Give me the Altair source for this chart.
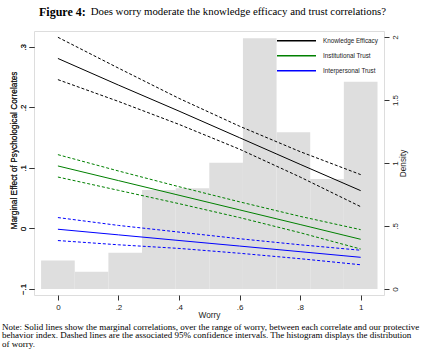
import altair as alt
import pandas as pd

# ---- data ----
worry = [0.0, 0.2, 0.4, 0.6, 0.8, 1.0]

ke_est = [0.281, 0.237, 0.194, 0.150, 0.106, 0.0625]
ke_hi = [0.316, 0.265, 0.215, 0.169, 0.127, 0.089]
ke_lo = [0.246, 0.210, 0.172, 0.131, 0.085, 0.036]

it_est = [0.1033, 0.0791, 0.0549, 0.0307, 0.0065, -0.0179]
it_hi = [0.122, 0.095, 0.069, 0.044, 0.020, -0.002]
it_lo = [0.085, 0.063, 0.041, 0.018, -0.007, -0.034]

ip_est = [-0.0013, -0.0106, -0.0199, -0.0291, -0.0384, -0.0477]
ip_hi = [0.018, 0.005, -0.006, -0.017, -0.027, -0.036]
ip_lo = [-0.020, -0.027, -0.033, -0.041, -0.050, -0.060]

series_names = ["Knowledge Efficacy", "Institutional Trust", "Interpersonal Trust"]
series_colors = ["#000000", "#008000", "#0000ff"]

bin_left = [-0.0556, 0.0556, 0.1667, 0.2778, 0.3889, 0.5, 0.6111, 0.7222, 0.8333, 0.9444]
bin_right = [0.0556, 0.1667, 0.2778, 0.3889, 0.5, 0.6111, 0.7222, 0.8333, 0.9444, 1.0556]
density = [0.225, 0.137, 0.288, 0.786, 0.799, 1.002, 1.99, 1.244, 0.873, 1.645]

left_ticks = [-0.1, 0.0, 0.1, 0.2, 0.3]
right_ticks = [0.0, 0.5, 1.0, 1.5, 2.0]
x_ticks = [0.0, 0.2, 0.4, 0.6, 0.8, 1.0]

title_bold = "Figure 4:"
title_rest = "Does worry moderate the knowledge efficacy and trust correlations?"
note_lines = [
    "Note:  Solid lines show the marginal correlations, over the range of worry, between each correlate and our protective",
    "behavior index.  Dashed lines are the associated 95% confidence intervals.  The histogram displays the distribution",
    "of worry.",
]

# ---- tables ----
est_rows, ci_rows = [], []
for name, est, hi, lo in [
    (series_names[0], ke_est, ke_hi, ke_lo),
    (series_names[1], it_est, it_hi, it_lo),
    (series_names[2], ip_est, ip_hi, ip_lo),
]:
    for w, e, h, l in zip(worry, est, hi, lo):
        est_rows.append({"worry": w, "series": name, "value": e})
        ci_rows.append({"worry": w, "series": name, "bound": "hi", "value": h})
        ci_rows.append({"worry": w, "series": name, "bound": "lo", "value": l})
est_df = pd.DataFrame(est_rows)
ci_df = pd.DataFrame(ci_rows)
hist_df = pd.DataFrame({"left": bin_left, "right": bin_right, "density": density})

SANS = "Liberation Sans"
SERIF = "Liberation Serif"
TXT = "#222222"
lab_expr = "replace(format(datum.value, '~g'), '0.', '.')"

xscale = alt.Scale(domain=[-0.079, 1.077], nice=False, zero=False)
xaxis = alt.Axis(values=x_ticks, labelExpr=lab_expr, title="Worry", grid=False,
                 domain=False, tickSize=5, tickColor="#333", labelPadding=3,
                 labelFont=SANS, labelFontSize=8, labelColor=TXT,
                 titleFont=SANS, titleFontSize=8.3, titleFontWeight="normal",
                 titleColor=TXT, titleY=20, titleBaseline="middle")

yl_scale = alt.Scale(domain=[-0.11, 0.3264], nice=False, zero=False)
yl_axis = alt.Axis(orient="left", values=left_ticks, labelExpr=lab_expr, grid=False,
                   domain=False, tickSize=5, tickColor="#333", labelAngle=270,
                   labelPadding=2, labelFont=SANS, labelFontSize=8, labelColor=TXT,
                   title="Marginal Effect of Psychological Correlates",
                   titleFont=SANS, titleFontSize=8.3, titleFontWeight="normal",
                   titleColor=TXT, titleAngle=270, titleX=-20, titleY=119,
                   titleBaseline="middle", titleAlign="center")

yr_scale = alt.Scale(domain=[-0.048, 2.048], nice=False, zero=False)
yr_axis = alt.Axis(orient="right", values=right_ticks, labelExpr=lab_expr, grid=False,
                   domain=False, tickSize=5, tickColor="#333", labelAngle=270,
                   labelPadding=2, labelFont=SANS, labelFontSize=8, labelColor=TXT,
                   title="Density", titleFont=SANS, titleFontSize=8.3,
                   titleFontWeight="normal", titleColor=TXT, titleAngle=270,
                   titleX=19, titleY=132, titleBaseline="middle", titleAlign="center")

color_scale = alt.Scale(domain=series_names, range=series_colors)
legend = alt.Legend(orient="none", legendX=242, legendY=2.7, title=None,
                    symbolType="stroke", symbolSize=1521,
                    symbolStrokeWidth=1.5, labelFont=SANS, labelFontSize=6.3,
                    labelColor=TXT, labelOffset=6, clipHeight=14.3,
                    rowPadding=0, padding=0)

hist = alt.Chart(hist_df).mark_rect(color="#dedede", strokeWidth=0).encode(
    x=alt.X("left:Q", scale=xscale, axis=xaxis),
    x2="right:Q",
    y=alt.Y("density:Q", scale=yr_scale, axis=yr_axis),
    y2=alt.datum(0),
)

est = alt.Chart(est_df).mark_line(strokeWidth=1).encode(
    x=alt.X("worry:Q", scale=xscale, axis=xaxis),
    y=alt.Y("value:Q", scale=yl_scale, axis=yl_axis),
    color=alt.Color("series:N", scale=color_scale, sort=series_names, legend=legend),
)

ci = alt.Chart(ci_df).mark_line(strokeWidth=1, strokeDash=[3, 2]).encode(
    x=alt.X("worry:Q", scale=xscale, axis=xaxis),
    y=alt.Y("value:Q", scale=yl_scale, axis=yl_axis),
    color=alt.Color("series:N", scale=color_scale, sort=series_names, legend=legend),
    detail="bound:N",
)

one = alt.Data(values=[{}])
t1 = alt.Chart(one).mark_text(text=title_bold, font=SERIF, fontSize=12,
                              fontWeight="bold", align="left", baseline="middle",
                              color="#000").encode(x=alt.value(5), y=alt.value(-18.7))
t2 = alt.Chart(one).mark_text(text=title_rest, font=SERIF, fontSize=10.8,
                              align="left", baseline="middle",
                              color="#000").encode(x=alt.value(56.7), y=alt.value(-18.7))
note = alt.Chart(one).mark_text(text=note_lines, font=SERIF, fontSize=9.0,
                                lineHeight=8.8, align="left", baseline="middle",
                                color="#000").encode(x=alt.value(-32), y=alt.value(295.7))

chart = alt.layer(hist, est, ci, t1, t2, note).resolve_scale(y="independent").properties(
    width=350, height=264,
    autosize=alt.AutoSizeParams(type="none"),
    padding={"left": 34, "top": 31, "right": 38, "bottom": 59},
).configure_view(stroke="#333", strokeWidth=1).configure(background="white")

chart.save("out.html", embed_options={"renderer": "svg", "actions": False})
